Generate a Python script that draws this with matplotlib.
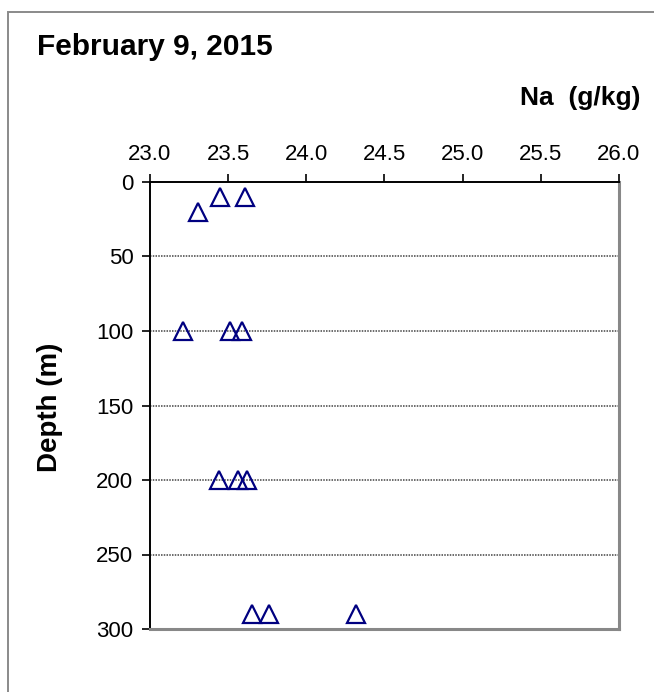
#!/usr/bin/env python3
"""Na concentration versus depth, February 9, 2015."""

import matplotlib

matplotlib.use("Agg")

import matplotlib.pyplot as plt
from matplotlib.patches import Rectangle

plt.rcParams["font.family"] = ["Liberation Sans", "DejaVu Sans"]

# sample values
NA = [23.45, 23.61, 23.31, 23.21, 23.51, 23.59, 23.44, 23.56, 23.62, 23.65, 23.76, 24.32]
DEPTH = [10, 10, 20, 100, 100, 100, 200, 200, 200, 290, 290, 290]

X_TICKS = [23.0, 23.5, 24.0, 24.5, 25.0, 25.5, 26.0]
Y_TICKS = [0, 50, 100, 150, 200, 250, 300]

W, H = 654, 692
fig = plt.figure(figsize=(W / 100, H / 100), dpi=100)
ax = fig.add_axes([150 / W, 1 - 629 / H, (619 - 150) / W, (629 - 182) / H])

# outer frame running off the right and bottom edges
fig.patches.append(Rectangle((8 / W, -0.1), 1.2, 1 - 12 / H + 0.1, transform=fig.transFigure,
                             fill=False, edgecolor="#8a8a8a", lw=1.4))

for y in Y_TICKS[1:-1]:
    ax.axhline(y, color="#444444", lw=1.1, ls=(0, (1, 0.8)), zorder=1)

ax.plot(NA, DEPTH, ls="none", marker="^", ms=13.5, mfc="none", mec="#000080", mew=1.6,
        zorder=3, clip_on=False)

ax.set_xlim(23.0, 26.0)
ax.set_ylim(300, 0)
ax.set_xticks(X_TICKS)
ax.set_xticklabels([f"{v:.1f}" for v in X_TICKS])
ax.set_yticks(Y_TICKS)
ax.xaxis.tick_top()
ax.tick_params(axis="both", direction="out", length=6, width=1.2, labelsize=16, color="black")
ax.tick_params(axis="x", pad=6)
ax.tick_params(axis="y", pad=6)

for side in ["left", "top"]:
    ax.spines[side].set_color("black")
    ax.spines[side].set_linewidth(1.4)
for side in ["right", "bottom"]:
    ax.spines[side].set_color("#888888")
    ax.spines[side].set_linewidth(2.2)

fig.text(37 / W, 1 - 55 / H, "February 9, 2015", fontsize=21.5, fontweight="bold", ha="left",
         va="baseline")
fig.text(641 / W, 1 - 105 / H, "Na  (g/kg)", fontsize=19, fontweight="bold", ha="right",
         va="baseline")
fig.text(50 / W, 1 - 407 / H, "Depth (m)", fontsize=20, fontweight="bold", rotation=90,
         ha="center", va="center")

fig.savefig("out.png", dpi=100)
